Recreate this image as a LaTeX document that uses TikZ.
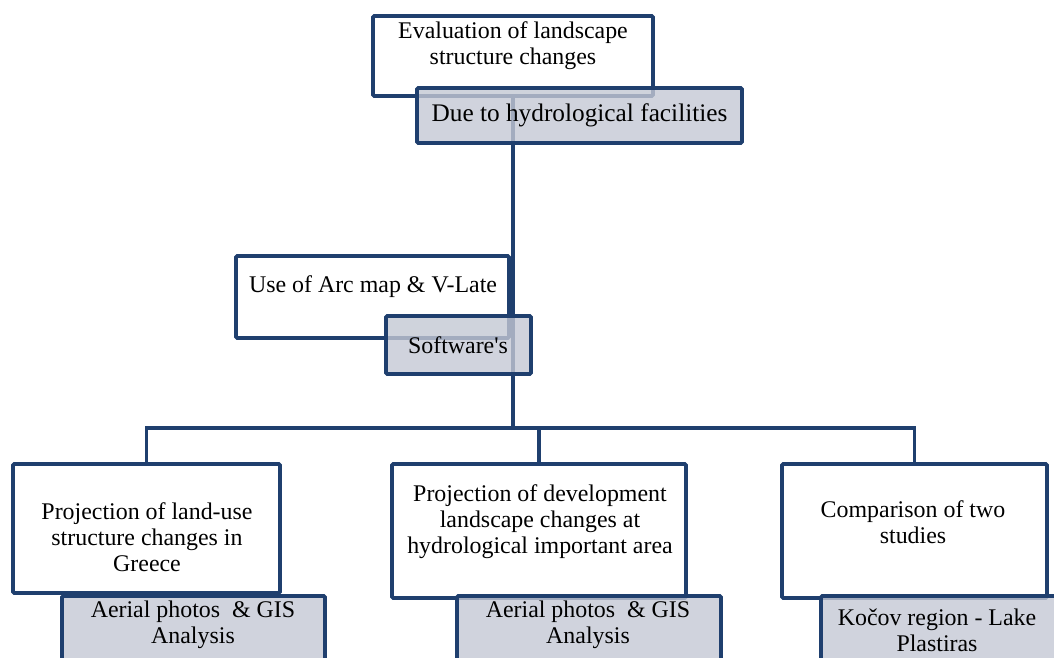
\documentclass[tikz,border=0pt]{standalone}
\usepackage{fontspec}
\setmainfont{Liberation Serif}
\usepackage{tikz}
\usetikzlibrary{calc}
\definecolor{boxblue}{HTML}{1F3F6E}
\definecolor{boxgrey}{HTML}{C4C8D4}
\newcommand{\pu}{0.25mm}

\begin{document}
\begin{tikzpicture}[x=\pu,y=-\pu,
  wbox/.style={draw=boxblue, line width=2.8pt, fill=white, rounded corners=1pt, inner sep=0pt},
  gbox/.style={draw=boxblue, line width=2.8pt, fill=boxgrey, fill opacity=0.8, rounded corners=1pt, inner sep=0pt},
  txt/.style={align=center, inner sep=0pt, font=\fontsize{17}{18.5}\selectfont},
  link/.style={boxblue, line width=2.8pt}]
\clip (0,0) rectangle (1054,657);
% white boxes
\node[wbox, minimum width=280*\pu, minimum height=80*\pu] (eval) at (513,56) {};
\node[wbox, minimum width=273*\pu, minimum height=82*\pu] (use) at (372.5,297) {};
\node[wbox, minimum width=267*\pu, minimum height=129*\pu] (proj1) at (146.5,528.5) {};
\node[wbox, minimum width=294*\pu, minimum height=134*\pu] (proj2) at (539,531) {};
\node[wbox, minimum width=265*\pu, minimum height=134*\pu] (comp) at (914.5,531) {};
% connectors
\coordinate (hub) at (513,428);
\draw[link] (eval.south) -- (hub);
\draw[link] (proj1.north) |- (hub) -| (comp.north);
\draw[link] (proj2.north) -- (proj2.north |- hub);
% grey boxes
\node[gbox, minimum width=325*\pu, minimum height=55*\pu] (due) at (579.5,115.5) {};
\node[gbox, minimum width=145*\pu, minimum height=58*\pu] (soft) at (458.5,345) {};
\node[gbox, minimum width=263*\pu, minimum height=74*\pu] (gis1) at (193.5,633) {};
\node[gbox, minimum width=264*\pu, minimum height=74*\pu] (gis2) at (589,633) {};
\node[gbox, minimum width=238*\pu, minimum height=74*\pu] (lake) at (940,633) {};
% texts
\node[txt] (evaltxt) at (513,46) {Evaluation of landscape\\structure changes};
\node[txt, font=\fontsize{18}{19}\selectfont] (duetxt) at (due) {Due to hydrological facilities};
\node[txt] (usetxt) at (373,287) {Use of Arc map \& V-Late};
\node[txt] (softtxt) at (458,345) {Software\textquotesingle s};
\node[txt] (proj1txt) at (147,537) {Projection of land-use\\structure changes in\\Greece};
\node[txt] (proj2txt) at (540,522) {Projection of development\\landscape changes at\\hydrological important area};
\node[txt] (comptxt) at (913,522) {Comparison of two\\studies};
\node[txt] (gis1txt) at (193,625) {Aerial photos~ \& GIS\\Analysis};
\node[txt] (gis2txt) at (588,625) {Aerial photos~ \& GIS\\Analysis};
\node[txt] (laketxt) at (937,630) {Kočov region - Lake\\Plastiras};
\end{tikzpicture}
\end{document}
